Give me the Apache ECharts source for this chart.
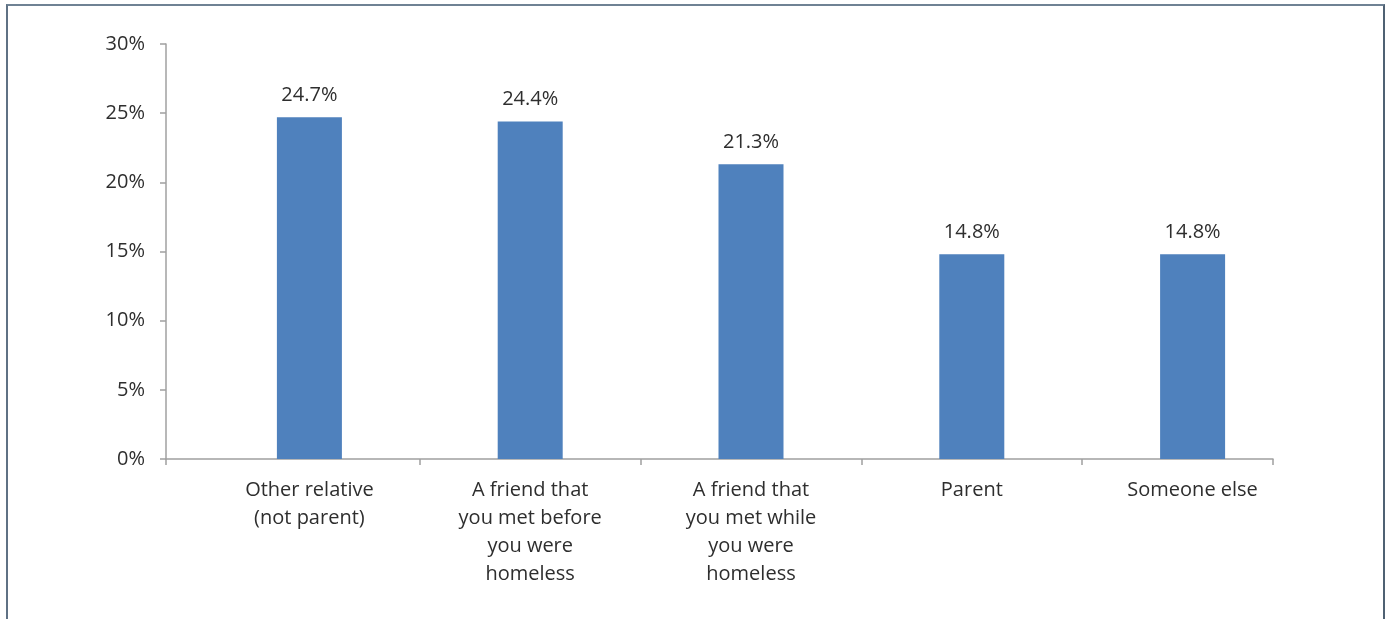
<!DOCTYPE html>
<html>
<head>
<meta charset="utf-8">
<script src="https://cdn.jsdelivr.net/npm/echarts@6/dist/echarts.min.js"></script>
<style>
  html, body { margin: 0; padding: 0; background: #ffffff; }
  #frame { position: absolute; left: 6px; top: 4px; width: 1375px; height: 700px;
           border-left: 2px solid #5f7184; border-top: 2px solid #6f8294; border-right: 2px solid #4f6173; }
  #chart { position: absolute; left: 0; top: 0; width: 1386px; height: 619px; }
</style>
</head>
<body>
<div id="frame"></div>
<div id="chart"></div>
<script>
// ---- data ----
const categories = [
  'Other relative\n(not parent)',
  'A friend that\nyou met before\nyou were\nhomeless',
  'A friend that\nyou met while\nyou were\nhomeless',
  'Parent',
  'Someone else'
];
const values = [24.7, 24.4, 21.3, 14.8, 14.8];
const yTicks = { min: 0, max: 30, interval: 5 };

// ---- layout ----
const W = 1386;
const FONT = '"Open Sans", "Liberation Sans", sans-serif';
const TEXT = '#2e2e2e';
const AXIS = '#a0a0a0';
const barGrid = { left: 199, right: 83, top: 44, bottom: 160 };
const bandW = (W - barGrid.left - barGrid.right) / categories.length;

const chart = echarts.init(document.getElementById('chart'), null, { renderer: 'canvas' });
chart.setOption({
  animation: false,
  backgroundColor: 'transparent',
  grid: [
    // bars
    { left: barGrid.left, right: barGrid.right, top: barGrid.top, bottom: barGrid.bottom },
    // horizontal axis line
    { left: 166, right: 113, top: barGrid.top, bottom: barGrid.bottom },
    // inner category separators
    { left: barGrid.left + bandW, right: barGrid.right + bandW, top: barGrid.top, bottom: barGrid.bottom }
  ],
  xAxis: [
    {
      type: 'category', gridIndex: 0, data: categories,
      axisLine: { show: false }, axisTick: { show: false },
      axisLabel: { interval: 0, color: TEXT, fontFamily: FONT, fontSize: 20, lineHeight: 28, margin: 17 }
    },
    {
      type: 'value', gridIndex: 1, min: 0, max: 1, interval: 1,
      axisLine: { show: true, lineStyle: { color: AXIS, width: 1.5 } },
      axisTick: { show: true, length: 6, lineStyle: { color: AXIS, width: 1.5 } },
      axisLabel: { show: false }, splitLine: { show: false }
    },
    {
      type: 'value', gridIndex: 2, min: 0, max: categories.length - 2, interval: 1,
      axisLine: { show: false },
      axisTick: { show: true, length: 6, lineStyle: { color: AXIS, width: 1.5 } },
      axisLabel: { show: false }, splitLine: { show: false }
    }
  ],
  yAxis: [
    {
      type: 'value', gridIndex: 0, min: yTicks.min, max: yTicks.max, interval: yTicks.interval,
      offset: barGrid.left - 166,
      axisLine: { show: true, lineStyle: { color: AXIS, width: 1.5 } },
      axisTick: { show: true, length: 6, lineStyle: { color: AXIS, width: 1.5 } },
      axisLabel: { color: TEXT, fontFamily: FONT, fontSize: 20, margin: 21, formatter: '{value}%' },
      splitLine: { show: false }
    },
    { type: 'value', gridIndex: 1, min: 0, max: 1, show: false },
    { type: 'value', gridIndex: 2, min: 0, max: 1, show: false }
  ],
  series: [{
    type: 'bar', xAxisIndex: 0, yAxisIndex: 0,
    data: values,
    barWidth: 65,
    itemStyle: { color: '#4f81bd' },
    label: {
      show: true, position: 'top', distance: 12,
      color: TEXT, fontFamily: FONT, fontSize: 20,
      formatter: p => p.value.toFixed(1) + '%'
    }
  }]
});
</script>
</body>
</html>
